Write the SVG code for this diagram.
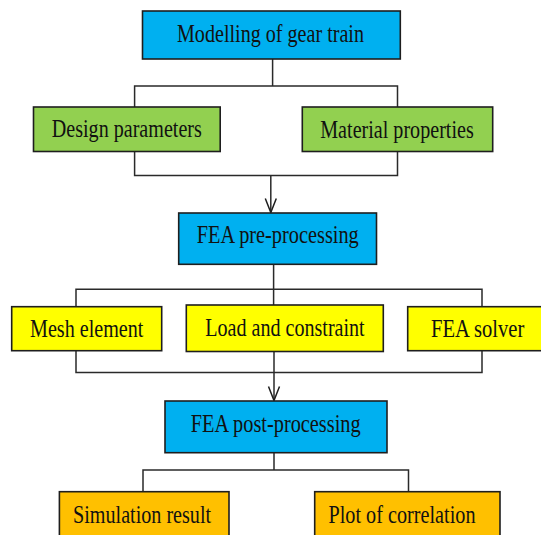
<svg xmlns="http://www.w3.org/2000/svg" width="541" height="535" viewBox="0 0 541 535">
  <defs>
    <style>
      .box { stroke: #1e1e1e; stroke-width: 1.6; }
      .blue { fill: #00B0F0; }
      .green { fill: #92D050; }
      .yellow { fill: #FFFF00; }
      .orange { fill: #FFC000; }
      .lbl { font-family: "Liberation Serif", "Times New Roman", serif; font-size: 24.5px; fill: #111; text-anchor: middle; }
      .conn { fill: none; stroke: #2a2a2a; stroke-width: 1.5; }
    </style>
    <marker id="arrow" markerUnits="userSpaceOnUse" viewBox="-1 -7 16 14" refX="14" refY="0" markerWidth="16" markerHeight="14" orient="auto">
      <path d="M0,-5.5 L14,0 L0,5.5" fill="none" stroke="#1e1e1e" stroke-width="1.5"/>
    </marker>
  </defs>
  <rect width="541" height="535" fill="#ffffff"/>

  <g id="connectors">
    <path class="conn" d="M272.6,59 V86 M134.6,107 V86 H397.5 V107"/>
    <path class="conn" d="M134.6,151.5 V175.5 H397.5 V151.5"/>
    <path class="conn" d="M270.8,175.5 V212.5" marker-end="url(#arrow)"/>
    <path class="conn" d="M273.6,264.3 V305 M76,306.7 V289.3 H482 V306.7"/>
    <path class="conn" d="M76,350.7 V372.5 H482 V350.7"/>
    <path class="conn" d="M274,351.5 V400.5" marker-end="url(#arrow)"/>
    <path class="conn" d="M274,452.7 V470 M143,491.7 V470 H408.5 V491.7"/>
  </g>

  <g id="modelling">
    <rect class="box blue" x="142.5" y="11" width="257.8" height="48"/>
    <text class="lbl" x="270.5" y="42" textLength="187" lengthAdjust="spacingAndGlyphs">Modelling of gear train</text>
  </g>
  <g id="design">
    <rect class="box green" x="33.5" y="107" width="186.7" height="44.5"/>
    <text class="lbl" x="126.8" y="137" textLength="150" lengthAdjust="spacingAndGlyphs">Design parameters</text>
  </g>
  <g id="material">
    <rect class="box green" x="302.3" y="107" width="190.4" height="44.5"/>
    <text class="lbl" x="397" y="137.5" textLength="153.5" lengthAdjust="spacingAndGlyphs">Material properties</text>
  </g>
  <g id="pre">
    <rect class="box blue" x="178.7" y="213" width="197.8" height="51.3"/>
    <text class="lbl" x="277.8" y="243.3" textLength="162" lengthAdjust="spacingAndGlyphs">FEA pre-processing</text>
  </g>
  <g id="mesh">
    <rect class="box yellow" x="11.7" y="306.7" width="150" height="44"/>
    <text class="lbl" x="86.7" y="336.7" textLength="113.3" lengthAdjust="spacingAndGlyphs">Mesh element</text>
  </g>
  <g id="load">
    <rect class="box yellow" x="186.3" y="305" width="197" height="46.5"/>
    <text class="lbl" x="285" y="336.2" textLength="159.4" lengthAdjust="spacingAndGlyphs">Load and constraint</text>
  </g>
  <g id="solver">
    <rect class="box yellow" x="407.7" y="306.7" width="140" height="44"/>
    <text class="lbl" x="477.7" y="336.7" textLength="93.3" lengthAdjust="spacingAndGlyphs">FEA solver</text>
  </g>
  <g id="post">
    <rect class="box blue" x="165" y="401" width="222" height="51.7"/>
    <text class="lbl" x="275.7" y="432" textLength="169.8" lengthAdjust="spacingAndGlyphs">FEA post-processing</text>
  </g>
  <g id="simulation">
    <rect class="box orange" x="59.4" y="491.7" width="169.6" height="55"/>
    <text class="lbl" x="142.1" y="522.7" textLength="138" lengthAdjust="spacingAndGlyphs">Simulation result</text>
  </g>
  <g id="plot">
    <rect class="box orange" x="314.7" y="491.7" width="185.3" height="55"/>
    <text class="lbl" x="402" y="522.5" textLength="147" lengthAdjust="spacingAndGlyphs">Plot of correlation</text>
  </g>
</svg>
